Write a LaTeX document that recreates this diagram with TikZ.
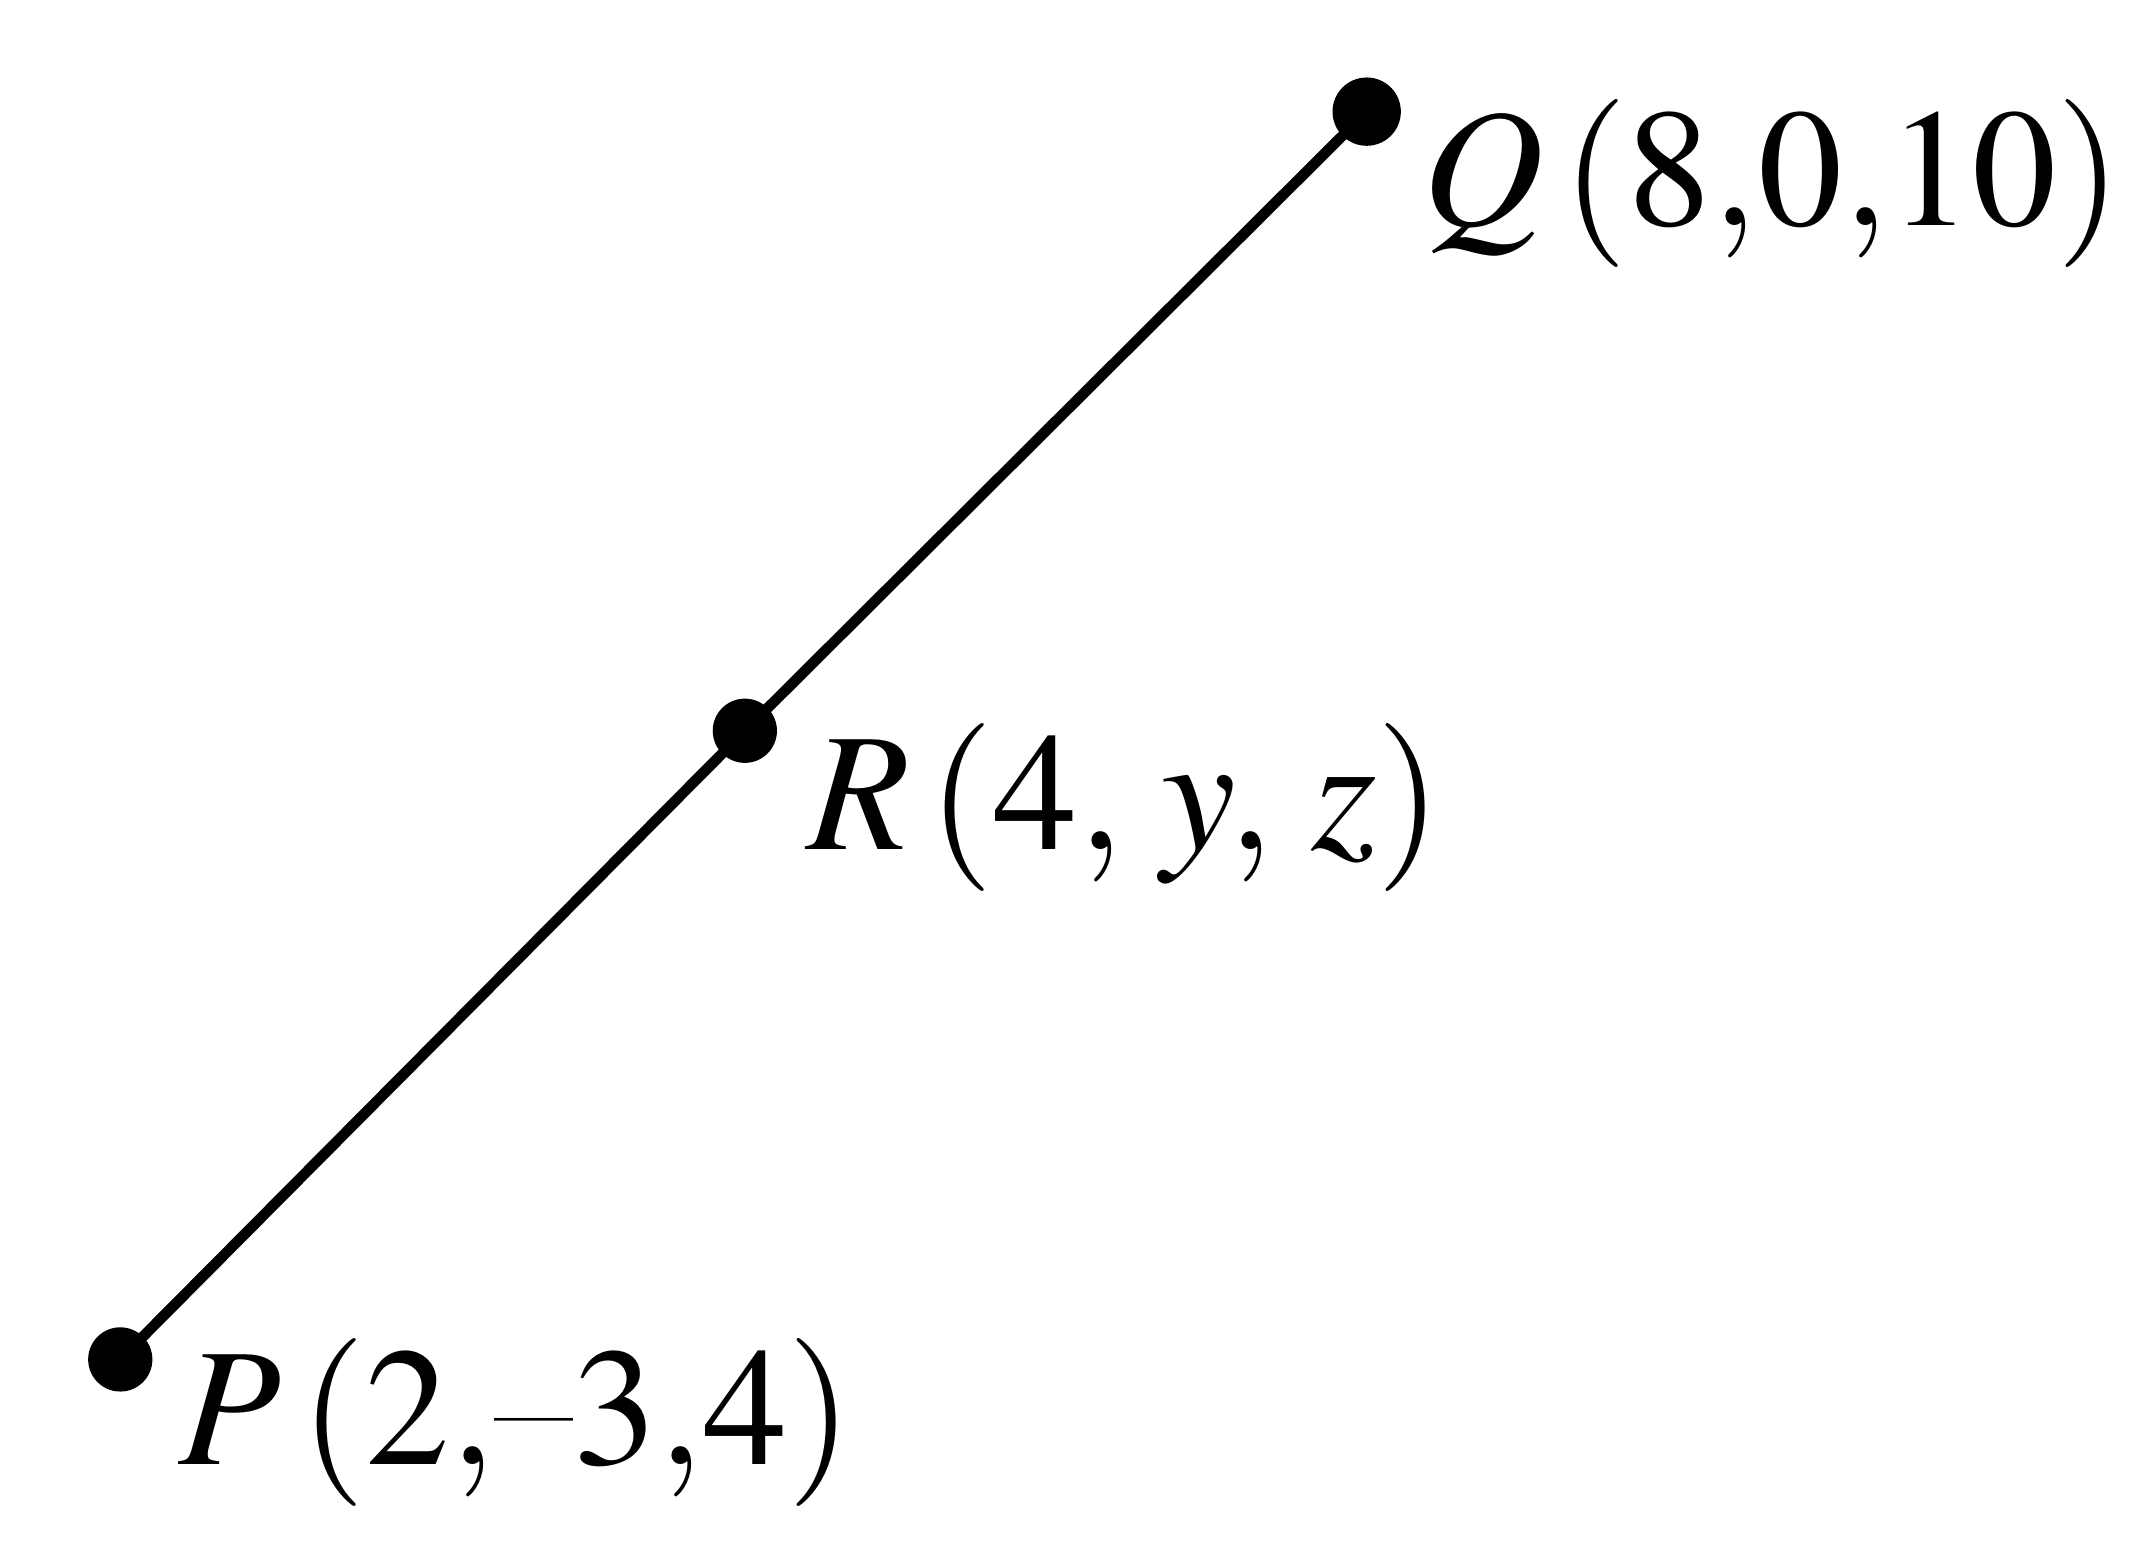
\documentclass[tikz,border=0pt]{standalone}
\usepackage{mathptmx}
\tikzset{
  pt/.style={circle,fill=black,inner sep=0pt,minimum size=0.47cm},
  lab/.style={anchor=base west,inner sep=0pt,font=\fontsize{35}{40}\selectfont}
}

\begin{document}
\begin{tikzpicture}
      \useasboundingbox (0,0) rectangle (15.6,11.327);
      \node[pt] (p) at (0.88,1.38)  {};
      \node[pt] (r) at (5.45,5.98)  {};
      \node[pt,minimum size=0.5cm] (q) at (10.0,10.51) {};

      \draw[line width=2.2pt] (p.center) -- (r.center) -- (q.center);

      \node[lab] (q-lab) at (10.4,9.68) {$Q\,(8{,}0{,}10)$};
      \node[lab] (r-lab) at (5.9,5.11)  {$R\,(4,\,y,\,z)$};
      \node[lab] (p-lab) at (1.3,0.61)  {$P\,(2{,}\textrm{--}3{,}4)$};
    \end{tikzpicture}
\end{document}
